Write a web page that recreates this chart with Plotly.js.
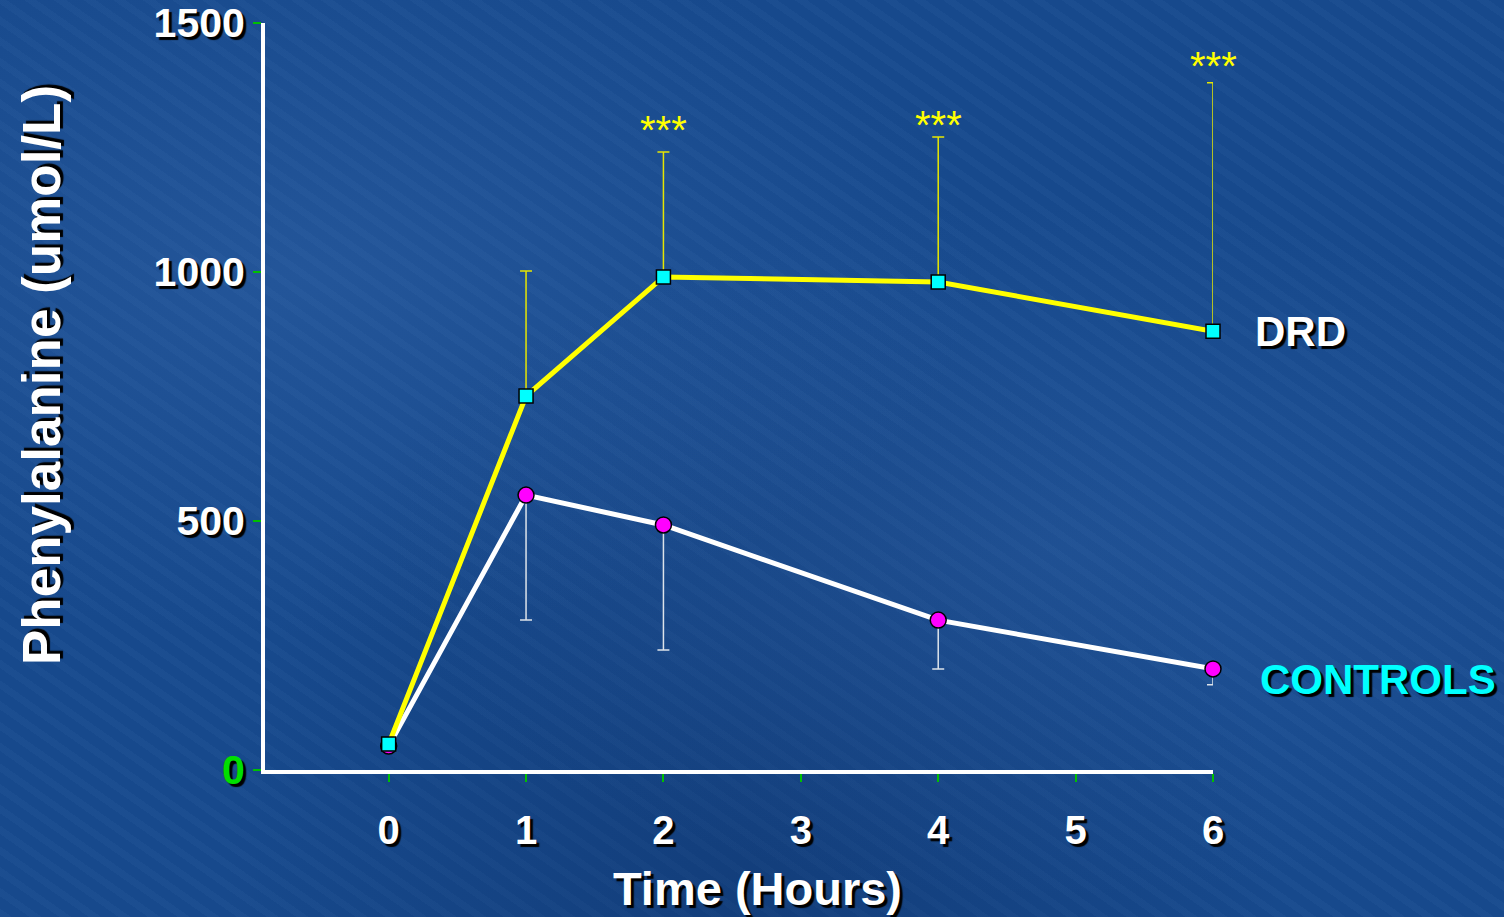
<!DOCTYPE html>
<html>
<head>
<meta charset="utf-8">
<script src="https://cdn.plot.ly/plotly-3.0.1.min.js"></script>
<style>
html,body{margin:0;padding:0;width:1504px;height:917px;overflow:hidden;}
body{
 background-color:#174a8e;
 background-image:
  radial-gradient(ellipse at 20% 30%, rgba(80,130,200,0.22), rgba(0,0,0,0) 40%),
  radial-gradient(ellipse at 70% 60%, rgba(80,130,200,0.16), rgba(0,0,0,0) 45%),
  radial-gradient(ellipse at 50% 100%, rgba(10,40,90,0.35), rgba(0,0,0,0) 50%),
  repeating-linear-gradient(35deg, rgba(255,255,255,0.018) 0px, rgba(255,255,255,0.018) 7px, rgba(0,0,0,0.015) 7px, rgba(0,0,0,0.015) 17px);
}
#chart{width:1504px;height:917px;}
</style>
</head>
<body>
<div id="chart"></div>
<script>
var timeHours = [0, 1, 2, 4, 6];
var drdMean = [52, 751, 990, 980, 881];
var drdErrUp = [0, 251, 251, 291, 499];
var controlsMean = [48, 552, 492, 301, 203];
var controlsErrDown = [0, 251, 251, 98, 32];
var xTickVals = [0, 1, 2, 3, 4, 5, 6];
var yTickVals = [0, 500, 1000, 1500];
var yTickText = ['<span style="color:#00e000">0</span>', '500', '1000', '1500'];
var sigX = [2, 4, 6];
var sigY = [1285, 1295, 1414];
var sigText = ['***', '***', '***'];
var xTitle = 'Time (Hours)';
var yTitle = 'Phenylalanine (umol/L)';

var shadow = '3px 3px 1px #000';
var fam = 'Liberation Sans, Arial, sans-serif';

var traces = [
 {
  x: timeHours, y: controlsMean, type: 'scatter', mode: 'lines+markers', name: 'CONTROLS',
  cliponaxis: false,
  line: {color: '#ffffff', width: 5},
  marker: {symbol: 'circle', size: 16, color: '#ff00ff', line: {color: '#000', width: 1.5}},
  error_y: {type: 'data', symmetric: false, array: controlsMean.map(function(){return 0;}), arrayminus: controlsErrDown, color: '#dde3ea', thickness: 1.5, width: 6},
  showlegend: false
 },
 {
  x: timeHours, y: drdMean, type: 'scatter', mode: 'lines+markers', name: 'DRD',
  cliponaxis: false,
  line: {color: '#ffff00', width: 5},
  marker: {symbol: 'square', size: 14, color: '#00ffff', line: {color: '#000', width: 1.5}},
  error_y: {type: 'data', symmetric: false, array: drdErrUp, arrayminus: drdMean.map(function(){return 0;}), color: '#e6e600', thickness: 1.5, width: 6},
  showlegend: false
 }
];

var annotations = sigX.map(function(xv, i){
 return {x: xv, y: sigY[i], xref: 'x', yref: 'y', text: sigText[i], showarrow: false,
  font: {family: fam, size: 40, color: '#ffff00'}};
});
annotations.push({x: 1.042, y: 881, xref: 'paper', yref: 'y', xanchor: 'left', text: '<b>DRD</b>', showarrow: false,
 font: {family: fam, size: 42, color: '#ffffff', shadow: shadow}});
annotations.push({x: 1.047, y: 181, xref: 'paper', yref: 'y', xanchor: 'left', text: '<b>CONTROLS</b>', showarrow: false,
 font: {family: fam, size: 42, color: '#00ffff', shadow: shadow}});
annotations.push({x: 0.52, y: -0.158, xref: 'paper', yref: 'paper', xanchor: 'center', yanchor: 'middle',
 text: '<b>' + xTitle + '</b>', showarrow: false,
 font: {family: fam, size: 47, color: '#ffffff', shadow: shadow}});
annotations.push({x: -0.2352, y: 0.5288, xref: 'paper', yref: 'paper', xanchor: 'center', yanchor: 'middle',
 textangle: -90, text: '<b>' + yTitle + '</b>', showarrow: false,
 font: {family: fam, size: 53, color: '#ffffff', shadow: shadow}});

var layout = {
 width: 1504, height: 917,
 paper_bgcolor: 'rgba(0,0,0,0)', plot_bgcolor: 'rgba(0,0,0,0)',
 margin: {l: 265, r: 291, t: 23, b: 147},
 font: {family: fam, color: '#ffffff'},
 xaxis: {
  range: [-0.9, 6], tickvals: xTickVals, showgrid: false, zeroline: false,
  showline: true, linecolor: '#ffffff', linewidth: 4,
  ticks: 'outside', ticklen: 8, tickwidth: 2, tickcolor: '#00c000',
  ticklabelstandoff: 14,
  tickfont: {size: 40, color: '#ffffff', weight: 'bold', shadow: shadow}
 },
 yaxis: {
  range: [0, 1500], tickvals: yTickVals, ticktext: yTickText, showgrid: false, zeroline: false,
  showline: true, linecolor: '#ffffff', linewidth: 4,
  ticks: 'outside', ticklen: 8, tickwidth: 2, tickcolor: '#00c000',
  ticklabelstandoff: 0,
  tickfont: {size: 41, color: '#ffffff', weight: 'bold', shadow: shadow}
 },
 annotations: annotations
};

Plotly.newPlot('chart', traces, layout, {displayModeBar: false, staticPlot: true});
</script>
</body>
</html>
